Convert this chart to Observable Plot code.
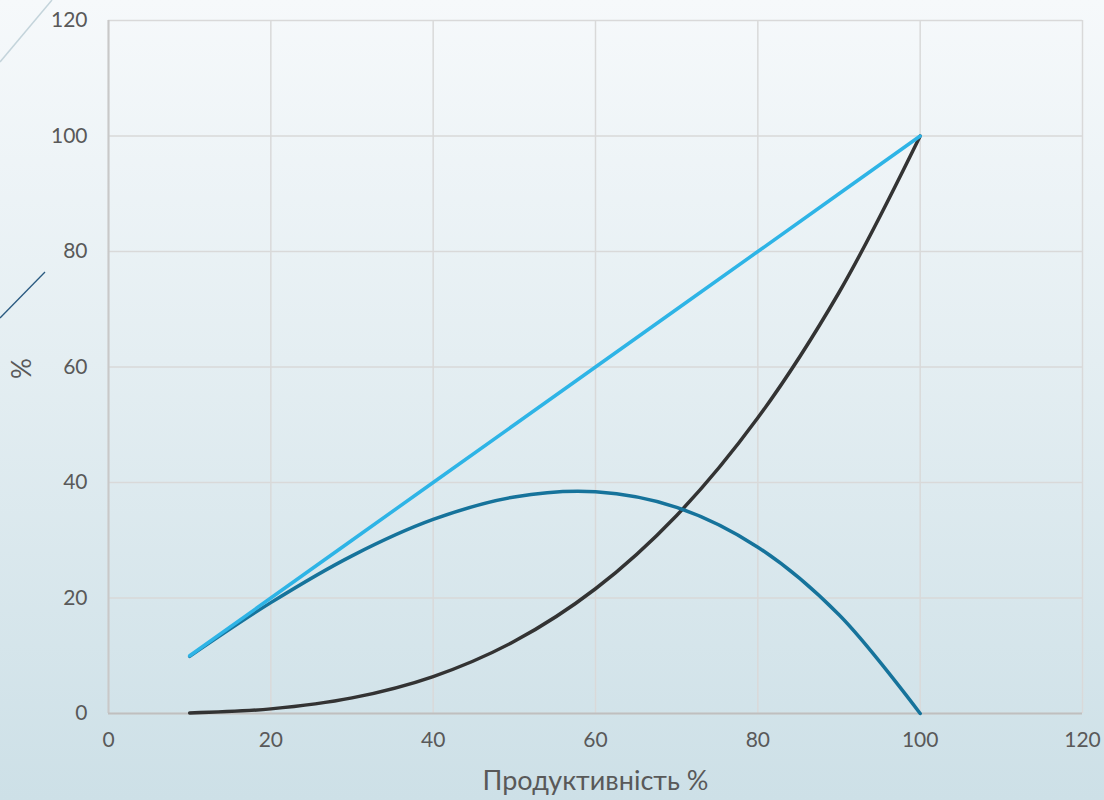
<!DOCTYPE html>
<html>
<head>
<meta charset="utf-8">
<script src="https://cdn.jsdelivr.net/npm/d3@7"></script>
<script src="https://cdn.jsdelivr.net/npm/@observablehq/plot@0.6"></script>
<style>
  html, body { margin: 0; padding: 0; }
  body {
    width: 1104px; height: 800px; overflow: hidden; position: relative;
    background: linear-gradient(to bottom, #f6f9fb 0%, #e4eef2 45%, #cde0e7 100%);
    font-family: "Lato", "DejaVu Sans", sans-serif;
  }
  #deco { position: absolute; left: 0; top: 0; }
  #chart { position: absolute; left: 0; top: 0; }
</style>
</head>
<body>
<svg id="deco" width="1104" height="800">
  <line x1="0" y1="62" x2="52" y2="0" stroke="#c4d4db" stroke-width="1.5"/>
  <line x1="0" y1="318" x2="45" y2="272" stroke="#2a5a80" stroke-width="1.3"/>
</svg>
<div id="chart"></div>
<script>
const xValues = [10, 20, 30, 40, 50, 60, 70, 80, 90, 100];
const linearSeries = [10, 20, 30, 40, 50, 60, 70, 80, 90, 100];
const cubicSeries = [0.1, 0.8, 2.7, 6.4, 12.5, 21.6, 34.3, 51.2, 72.9, 100];
const humpSeries = [9.9, 19.2, 27.3, 33.6, 37.5, 38.4, 35.7, 28.8, 17.1, 0];
const tickValues = [0, 20, 40, 60, 80, 100, 120];
const xLabel = "Продуктивність %";
const yLabel = "%";

const toRows = (ys) => xValues.map((x, i) => ({x, y: ys[i]}));

const chart = Plot.plot({
  width: 1104,
  height: 800,
  marginLeft: 108,
  marginRight: 22,
  marginTop: 20,
  marginBottom: 87,
  style: {background: "transparent", fontFamily: "Lato, 'DejaVu Sans', sans-serif", fontSize: "21px", color: "#595959"},
  x: {domain: [0, 120], ticks: tickValues, label: null},
  y: {domain: [0, 120], ticks: tickValues, label: null},
  marks: [
    Plot.gridX(tickValues, {stroke: "#d9d9d9", strokeOpacity: 1, strokeWidth: 1.5}),
    Plot.gridY(tickValues, {stroke: "#d9d9d9", strokeOpacity: 1, strokeWidth: 1.5}),
    Plot.ruleX([0], {stroke: "#c8c8c8", strokeWidth: 2}),
    Plot.ruleY([0], {stroke: "#bfbfbf", strokeWidth: 2}),
    Plot.axisX(tickValues, {tickSize: 0, tickPadding: 19, fontSize: 21, fill: "#595959", label: null}),
    Plot.axisY(tickValues, {tickSize: 0, tickPadding: 21, fontSize: 21, fill: "#595959", label: null}),
    Plot.line(toRows(cubicSeries), {x: "x", y: "y", stroke: "#333333", strokeWidth: 3.5, curve: "catmull-rom"}),
    Plot.line(toRows(humpSeries), {x: "x", y: "y", stroke: "#16739b", strokeWidth: 3.5, curve: "catmull-rom"}),
    Plot.line(toRows(linearSeries), {x: "x", y: "y", stroke: "#2eb4e6", strokeWidth: 3.5}),
    Plot.text([xLabel], {frameAnchor: "bottom", dy: 76, text: d => d, fontSize: 27, fill: "#595959"}),
    Plot.text([yLabel], {frameAnchor: "left", dx: -86, dy: 12, rotate: -90, text: d => d, fontSize: 26, fill: "#595959"})
  ]
});
document.getElementById("chart").appendChild(chart);
</script>
</body>
</html>
